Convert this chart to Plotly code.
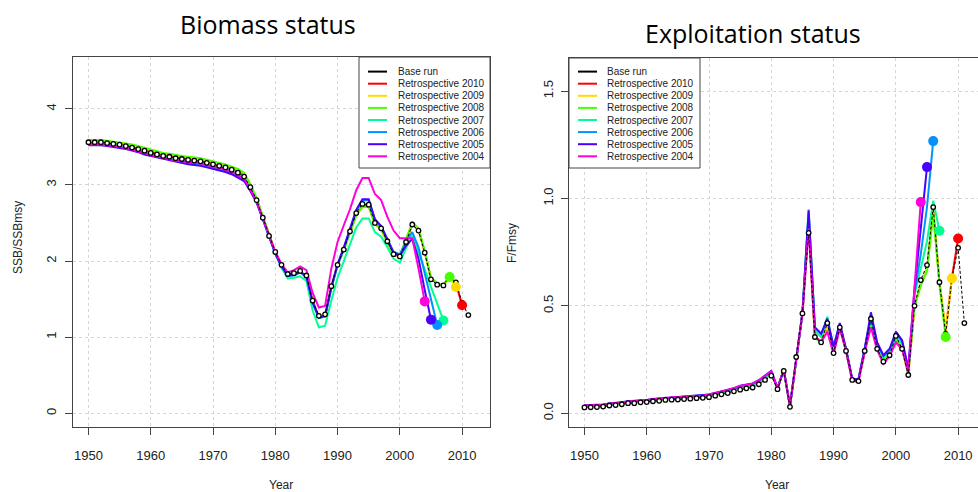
import plotly.graph_objects as go

# ---------------------------------------------------------------------------
# Data: stock status relative to MSY reference points, base run and
# retrospective peels (each peel ends at its terminal year)
# ---------------------------------------------------------------------------
years = list(range(1950, 2012))

retro_names = ["Retrospective 2010", "Retrospective 2009", "Retrospective 2008",
               "Retrospective 2007", "Retrospective 2006", "Retrospective 2005",
               "Retrospective 2004"]
retro_end_years = [2010, 2009, 2008, 2007, 2006, 2005, 2004]
retro_colors = ["#FF0000", "#FFDB00", "#49FF00", "#00FF92", "#0092FF", "#4900FF", "#FF00DB"]

# SSB / SSBmsy
ssb_base = [3.56, 3.56, 3.56, 3.55, 3.54, 3.53, 3.51, 3.49, 3.47, 3.45,
            3.42, 3.40, 3.38, 3.37, 3.35, 3.34, 3.33, 3.32, 3.31, 3.29,
            3.27, 3.25, 3.23, 3.20, 3.16, 3.11, 2.97, 2.80, 2.57, 2.33,
            2.12, 1.95, 1.83, 1.84, 1.87, 1.81, 1.48, 1.28, 1.30, 1.67,
            1.95, 2.15, 2.39, 2.63, 2.75, 2.74, 2.50, 2.43, 2.26, 2.09,
            2.06, 2.25, 2.48, 2.40, 2.11, 1.76, 1.69, 1.68, 1.81, 1.72,
            1.45, 1.29]
ssb_2010 = [3.57, 3.57, 3.57, 3.56, 3.55, 3.54, 3.53, 3.51, 3.49, 3.47,
            3.44, 3.42, 3.40, 3.39, 3.37, 3.36, 3.35, 3.34, 3.33, 3.31,
            3.29, 3.27, 3.25, 3.22, 3.19, 3.14, 2.99, 2.81, 2.57, 2.33,
            2.12, 1.95, 1.82, 1.83, 1.86, 1.80, 1.48, 1.27, 1.29, 1.66,
            1.95, 2.15, 2.38, 2.61, 2.72, 2.72, 2.49, 2.42, 2.25, 2.08,
            2.06, 2.25, 2.48, 2.41, 2.12, 1.77, 1.70, 1.68, 1.80, 1.71,
            1.42]
ssb_2009 = [3.58, 3.58, 3.58, 3.57, 3.56, 3.55, 3.54, 3.52, 3.50, 3.48,
            3.45, 3.43, 3.41, 3.40, 3.38, 3.37, 3.36, 3.35, 3.34, 3.32,
            3.30, 3.28, 3.26, 3.23, 3.20, 3.15, 3.00, 2.82, 2.57, 2.33,
            2.12, 1.95, 1.82, 1.83, 1.86, 1.80, 1.47, 1.27, 1.29, 1.66,
            1.95, 2.15, 2.38, 2.60, 2.71, 2.71, 2.48, 2.41, 2.24, 2.08,
            2.06, 2.26, 2.49, 2.42, 2.12, 1.77, 1.70, 1.68, 1.79, 1.66]
ssb_2008 = [3.59, 3.59, 3.59, 3.58, 3.57, 3.56, 3.55, 3.53, 3.51, 3.49,
            3.46, 3.44, 3.42, 3.41, 3.39, 3.38, 3.37, 3.36, 3.35, 3.33,
            3.31, 3.29, 3.27, 3.24, 3.21, 3.16, 3.01, 2.83, 2.58, 2.33,
            2.11, 1.93, 1.81, 1.82, 1.85, 1.79, 1.46, 1.26, 1.28, 1.65,
            1.94, 2.14, 2.37, 2.60, 2.71, 2.71, 2.49, 2.42, 2.25, 2.09,
            2.07, 2.28, 2.51, 2.43, 2.13, 1.78, 1.71, 1.69, 1.79]
ssb_2007 = [3.55, 3.55, 3.55, 3.54, 3.53, 3.52, 3.50, 3.48, 3.46, 3.44,
            3.41, 3.39, 3.37, 3.36, 3.34, 3.33, 3.32, 3.31, 3.30, 3.28,
            3.26, 3.24, 3.22, 3.19, 3.15, 3.10, 2.95, 2.78, 2.55, 2.31,
            2.09, 1.91, 1.77, 1.78, 1.80, 1.74, 1.35, 1.13, 1.15, 1.48,
            1.78, 2.00, 2.22, 2.44, 2.56, 2.56, 2.38, 2.32, 2.18, 2.03,
            1.98, 2.17, 2.33, 2.12, 1.89, 1.66, 1.44, 1.22]
ssb_2006 = [3.53, 3.53, 3.53, 3.52, 3.51, 3.50, 3.48, 3.46, 3.44, 3.41,
            3.39, 3.37, 3.35, 3.33, 3.31, 3.30, 3.28, 3.27, 3.26, 3.24,
            3.22, 3.20, 3.18, 3.15, 3.11, 3.06, 2.93, 2.77, 2.55, 2.32,
            2.10, 1.93, 1.80, 1.81, 1.85, 1.79, 1.45, 1.25, 1.27, 1.64,
            1.94, 2.16, 2.41, 2.66, 2.80, 2.80, 2.54, 2.46, 2.29, 2.12,
            2.09, 2.25, 2.38, 2.18, 1.84, 1.50, 1.16]
ssb_2005 = [3.52, 3.52, 3.52, 3.51, 3.50, 3.49, 3.47, 3.45, 3.43, 3.40,
            3.38, 3.36, 3.34, 3.32, 3.30, 3.29, 3.27, 3.26, 3.25, 3.23,
            3.21, 3.19, 3.17, 3.14, 3.10, 3.05, 2.92, 2.77, 2.55, 2.32,
            2.10, 1.93, 1.81, 1.82, 1.86, 1.80, 1.46, 1.26, 1.28, 1.66,
            1.96, 2.18, 2.43, 2.67, 2.81, 2.81, 2.55, 2.46, 2.28, 2.11,
            2.07, 2.20, 2.29, 2.03, 1.62, 1.23]
ssb_2004 = [3.53, 3.53, 3.53, 3.52, 3.51, 3.50, 3.48, 3.46, 3.44, 3.42,
            3.39, 3.37, 3.35, 3.34, 3.32, 3.31, 3.30, 3.29, 3.28, 3.26,
            3.24, 3.22, 3.20, 3.17, 3.13, 3.08, 2.94, 2.78, 2.56, 2.33,
            2.12, 1.96, 1.85, 1.88, 1.93, 1.88, 1.58, 1.39, 1.41, 1.90,
            2.25, 2.47, 2.68, 2.93, 3.09, 3.09, 2.88, 2.80, 2.58, 2.40,
            2.30, 2.30, 2.30, 1.90, 1.47]

# F / Fmsy
f_base = [0.027, 0.028, 0.029, 0.031, 0.036, 0.038, 0.042, 0.047, 0.047, 0.051,
          0.052, 0.056, 0.058, 0.062, 0.063, 0.064, 0.066, 0.068, 0.070, 0.072,
          0.075, 0.082, 0.088, 0.094, 0.102, 0.110, 0.116, 0.120, 0.135, 0.155,
          0.175, 0.112, 0.197, 0.030, 0.262, 0.465, 0.840, 0.355, 0.330, 0.420,
          0.280, 0.400, 0.290, 0.155, 0.150, 0.290, 0.440, 0.300, 0.240, 0.270,
          0.360, 0.300, 0.178, 0.500, 0.620, 0.690, 0.960, 0.610, 0.370, 0.630,
          0.770, 0.420]
f_2010 = [0.033, 0.034, 0.035, 0.037, 0.041, 0.043, 0.047, 0.052, 0.053, 0.056,
          0.058, 0.062, 0.064, 0.068, 0.069, 0.070, 0.072, 0.074, 0.076, 0.078,
          0.082, 0.089, 0.095, 0.102, 0.110, 0.120, 0.127, 0.131, 0.146, 0.166,
          0.188, 0.115, 0.200, 0.032, 0.262, 0.465, 0.880, 0.360, 0.330, 0.400,
          0.285, 0.400, 0.292, 0.155, 0.152, 0.290, 0.420, 0.300, 0.245, 0.275,
          0.330, 0.300, 0.182, 0.500, 0.600, 0.670, 0.950, 0.610, 0.380, 0.630,
          0.814]
f_2009 = [0.033, 0.034, 0.035, 0.037, 0.041, 0.043, 0.047, 0.052, 0.053, 0.056,
          0.058, 0.062, 0.064, 0.068, 0.069, 0.070, 0.072, 0.074, 0.076, 0.078,
          0.082, 0.089, 0.095, 0.102, 0.110, 0.120, 0.127, 0.131, 0.146, 0.166,
          0.188, 0.115, 0.200, 0.032, 0.262, 0.465, 0.890, 0.355, 0.335, 0.405,
          0.285, 0.400, 0.292, 0.155, 0.152, 0.290, 0.425, 0.302, 0.245, 0.275,
          0.335, 0.305, 0.182, 0.500, 0.600, 0.670, 0.945, 0.610, 0.385, 0.628]
f_2008 = [0.030, 0.031, 0.032, 0.034, 0.038, 0.040, 0.044, 0.049, 0.050, 0.053,
          0.055, 0.059, 0.061, 0.065, 0.066, 0.067, 0.069, 0.071, 0.073, 0.075,
          0.079, 0.086, 0.092, 0.099, 0.107, 0.116, 0.123, 0.127, 0.142, 0.162,
          0.184, 0.113, 0.199, 0.031, 0.262, 0.465, 0.900, 0.350, 0.330, 0.440,
          0.290, 0.405, 0.292, 0.155, 0.152, 0.292, 0.430, 0.305, 0.250, 0.280,
          0.340, 0.310, 0.185, 0.500, 0.595, 0.660, 0.930, 0.600, 0.355]
f_2007 = [0.034, 0.035, 0.036, 0.038, 0.042, 0.044, 0.048, 0.053, 0.054, 0.057,
          0.059, 0.063, 0.065, 0.069, 0.070, 0.071, 0.073, 0.075, 0.077, 0.079,
          0.083, 0.090, 0.096, 0.103, 0.112, 0.122, 0.129, 0.133, 0.148, 0.168,
          0.190, 0.115, 0.201, 0.032, 0.262, 0.465, 0.950, 0.385, 0.355, 0.450,
          0.300, 0.410, 0.295, 0.157, 0.155, 0.295, 0.440, 0.315, 0.260, 0.290,
          0.350, 0.325, 0.190, 0.550, 0.670, 0.800, 0.990, 0.850]
f_2006 = [0.036, 0.037, 0.038, 0.040, 0.044, 0.046, 0.050, 0.055, 0.056, 0.059,
          0.061, 0.065, 0.067, 0.071, 0.072, 0.073, 0.075, 0.077, 0.079, 0.081,
          0.086, 0.093, 0.099, 0.106, 0.115, 0.125, 0.132, 0.136, 0.151, 0.171,
          0.193, 0.116, 0.203, 0.032, 0.263, 0.466, 0.930, 0.400, 0.370, 0.430,
          0.310, 0.415, 0.298, 0.158, 0.157, 0.298, 0.450, 0.325, 0.265, 0.295,
          0.370, 0.335, 0.200, 0.560, 0.740, 0.960, 1.267]
f_2005 = [0.037, 0.038, 0.039, 0.041, 0.045, 0.047, 0.051, 0.056, 0.057, 0.060,
          0.062, 0.066, 0.068, 0.072, 0.073, 0.074, 0.076, 0.078, 0.080, 0.082,
          0.087, 0.094, 0.101, 0.108, 0.117, 0.128, 0.135, 0.139, 0.154, 0.174,
          0.197, 0.117, 0.205, 0.033, 0.264, 0.467, 0.945, 0.400, 0.370, 0.440,
          0.310, 0.420, 0.300, 0.160, 0.160, 0.300, 0.470, 0.330, 0.270, 0.300,
          0.380, 0.340, 0.210, 0.580, 0.860, 1.146]
f_2004 = [0.036, 0.037, 0.038, 0.040, 0.044, 0.046, 0.050, 0.055, 0.056, 0.059,
          0.062, 0.066, 0.068, 0.072, 0.073, 0.074, 0.076, 0.078, 0.080, 0.082,
          0.087, 0.094, 0.101, 0.108, 0.116, 0.127, 0.134, 0.138, 0.153, 0.173,
          0.195, 0.116, 0.203, 0.033, 0.262, 0.465, 0.860, 0.360, 0.330, 0.380,
          0.275, 0.395, 0.290, 0.150, 0.148, 0.285, 0.400, 0.295, 0.230, 0.265,
          0.330, 0.300, 0.190, 0.600, 0.983]

ssb_retros = [ssb_2010, ssb_2009, ssb_2008, ssb_2007, ssb_2006, ssb_2005, ssb_2004]
f_retros = [f_2010, f_2009, f_2008, f_2007, f_2006, f_2005, f_2004]

x_ticks = [1950, 1960, 1970, 1980, 1990, 2000, 2010]
ssb_ticks = [0, 1, 2, 3, 4]
f_ticks = [0.0, 0.5, 1.0, 1.5]
f_tick_text = ["0.0", "0.5", "1.0", "1.5"]

# ---------------------------------------------------------------------------
W, H = 978, 492
FONT = "Liberation Sans, Arial, sans-serif"
AXIS_COL = "#444444"
GRID_COL = "#D6D6D6"


def px(x):
    return x / W


def py(y):
    return 1 - y / H


fig = go.Figure()


def add_panel(base, retros, xa, ya):
    # retrospective peels
    for vals, end, col, name in zip(retros, retro_end_years, retro_colors, retro_names):
        yrs = years[:len(vals)]
        fig.add_trace(go.Scatter(x=yrs, y=vals, mode="lines", name=name,
                                 line=dict(color=col, width=2),
                                 xaxis=xa, yaxis=ya, showlegend=False,
                                 hoverinfo="skip"))
    # base run
    fig.add_trace(go.Scatter(x=years, y=base, mode="lines+markers", name="Base run",
                             line=dict(color="black", width=1, dash="3px,2px"),
                             marker=dict(symbol="circle", size=4.5, color="white",
                                         line=dict(color="black", width=1.3)),
                             xaxis=xa, yaxis=ya, showlegend=False))
    # terminal-year points of each peel
    for vals, end, col in zip(retros, retro_end_years, retro_colors):
        fig.add_trace(go.Scatter(x=[years[len(vals) - 1]], y=[vals[-1]], mode="markers",
                                 marker=dict(size=10, color=col),
                                 xaxis=xa, yaxis=ya, showlegend=False,
                                 hoverinfo="skip"))


add_panel(ssb_base, ssb_retros, "x", "y")
add_panel(f_base, f_retros, "x2", "y2")

axis_common = dict(showline=True, linecolor=AXIS_COL, linewidth=1,
                   ticks="outside", ticklen=7, tickcolor=AXIS_COL, tickwidth=1,
                   showgrid=True, gridcolor=GRID_COL, griddash="dot", gridwidth=1,
                   zeroline=False, tickfont=dict(family=FONT, size=13, color="#222222"))

fig.update_layout(
    width=W, height=H,
    margin=dict(l=0, r=0, t=0, b=0),
    paper_bgcolor="white", plot_bgcolor="white",
    showlegend=False,
    xaxis=dict(domain=[px(73), px(490)], range=[1947.52, 2014.48],
               tickvals=x_ticks, mirror=True, anchor="y", ticklabelstandoff=9,
               **axis_common),
    yaxis=dict(domain=[py(427), py(57)], range=[-0.18, 4.68],
               tickvals=ssb_ticks, tickangle=-90, mirror=True, anchor="x",
               ticklabelstandoff=4, **axis_common),
    xaxis2=dict(domain=[px(569), 1.0], range=[1947.52, 1947.52 + 409 / 6.228],
                tickvals=x_ticks, mirror=True, anchor="y2", ticklabelstandoff=9,
                **axis_common),
    yaxis2=dict(domain=[py(427), py(58)], range=[-0.064, 1.654],
                tickvals=f_ticks, ticktext=f_tick_text, tickangle=-90,
                mirror=False, anchor="x2", ticklabelstandoff=3, **axis_common),
)

shapes = []
annotations = []

# titles
annotations.append(dict(x=px(268), y=py(24), xref="paper", yref="paper",
                        text="Biomass status", showarrow=False,
                        xanchor="center", yanchor="middle",
                        font=dict(family="Open Sans, sans-serif", size=25, color="black")))
annotations.append(dict(x=px(753), y=py(33), xref="paper", yref="paper",
                        text="Exploitation status", showarrow=False,
                        xanchor="center", yanchor="middle",
                        font=dict(family="Open Sans, sans-serif", size=25, color="black")))

# axis titles
for x, y, txt, ang in [(18, 238, "SSB/SSBmsy", -90), (512, 243, "F/Fmsy", -90),
                       (281, 485, "Year", 0), (777, 485, "Year", 0)]:
    annotations.append(dict(x=px(x), y=py(y), xref="paper", yref="paper", text=txt,
                            showarrow=False, textangle=ang, xanchor="center",
                            yanchor="middle",
                            font=dict(family=FONT, size=12, color="#222222")))

# legends (inside each panel: top-right on the left, top-left on the right)
legend_labels = ["Base run"] + retro_names
legend_colors = ["black"] + retro_colors
for (bx0, bx1, by0, by1, lx0, lx1, tx) in [(359, 490, 57, 168, 368, 387, 396),
                                           (569, 700, 58, 168, 578, 597, 605)]:
    shapes.append(dict(type="rect", xref="paper", yref="paper",
                       x0=px(bx0), x1=px(bx1), y0=py(by1), y1=py(by0),
                       line=dict(color=AXIS_COL, width=1), fillcolor="white",
                       layer="above"))
    for i, (lab, col) in enumerate(zip(legend_labels, legend_colors)):
        yy = 71.6 + i * 12.1
        shapes.append(dict(type="line", xref="paper", yref="paper",
                           x0=px(lx0), x1=px(lx1), y0=py(yy), y1=py(yy),
                           line=dict(color=col, width=2), layer="above"))
        annotations.append(dict(x=px(tx), y=py(yy), xref="paper", yref="paper",
                                text=lab, showarrow=False, xanchor="left",
                                yanchor="middle",
                                font=dict(family=FONT, size=10, color="#222222")))

fig.update_layout(shapes=shapes, annotations=annotations)

fig.write_html("out.html")
